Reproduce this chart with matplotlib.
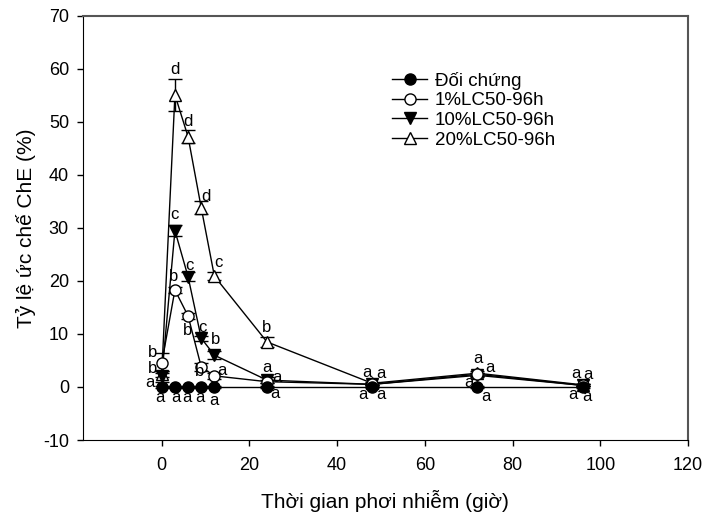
import matplotlib as mpl
import matplotlib.pyplot as plt
from matplotlib.lines import Line2D

mpl.rc('font', family=['Liberation Sans', 'DejaVu Sans'], size=13)
mpl.rc('axes', unicode_minus=False)
mpl.rc('figure', figsize=(7.02, 5.12), dpi=100)
mpl.rc('figure.subplot', left=0.118, right=0.980, bottom=0.1406, top=0.969)

time = [0, 3, 6, 9, 12, 24, 48, 72, 96]
control = [0, 0, 0, 0, 0, 0, 0, 0, 0]
lc1 = [4.5, 18.3, 13.4, 3.8, 2.1, 1.0, 0.5, 2.4, 0.3]
lc10 = [2.0, 29.5, 20.8, 9.2, 6.0, 1.3, 0.5, 2.2, 0.3]
lc20 = [2.5, 55.1, 47.2, 33.8, 20.9, 8.5, 0.7, 2.6, 0.4]

err_control = [0.1, 0.1, 0.1, 0.1, 0.1, 0.1, 0.1, 0.1, 0.1]
err1 = [1.9, 0.5, 0.5, 0.8, 0.6, 0.3, 0.2, 0.3, 0.2]
err10 = [1.0, 1.0, 0.8, 0.5, 0.8, 0.5, 0.2, 0.4, 0.2]
err20 = [0.6, 3.0, 1.2, 1.2, 0.8, 1.0, 0.3, 0.5, 0.2]

# significance letters
let_control = ['a', 'a', 'a', 'a', 'a', 'a', 'a', 'a', 'a']
let1 = ['b', 'b', 'b', 'b', 'a', 'a', 'a', 'a', 'a']
let10 = ['a', 'c', 'c', 'c', 'b', 'a', 'a', 'a', 'a']
let20 = ['b', 'd', 'd', 'd', 'c', 'b', 'a', 'a', 'a']

# label offsets (pixels) relative to each point
off_control = [(-2, -11), (1, -11), (-1, -11), (-1, -11), (0, -14), (8, -7), (9, -8), (8, -10), (4, -10)]
off1 = [(-9, 11), (-1, 13), (-1, -15), (-2, -5), (8, 5), (10, 4), (-9, -10), (-9, -8), (-10, -9)]
off10 = [(-12, -6), (0, 16), (1, 11), (1, 11), (1, 16), (0, 13), (9, 11), (12, 8), (5, 11)]
off20 = [(-9, 5), (0, 25), (0, 15), (5, 11), (4, 14), (0, 14), (-5, 11), (0, 15), (-7, 11)]

fig, ax = plt.subplots()

series = [
    ('Đối chứng', control, err_control, let_control, off_control, dict(marker='o', mfc='black'), 5),
    ('1%LC50-96h', lc1, err1, let1, off1, dict(marker='o', mfc='white'), 4),
    ('10%LC50-96h', lc10, err10, let10, off10, dict(marker='v', mfc='black'), 3),
    ('20%LC50-96h', lc20, err20, let20, off20, dict(marker='^', mfc='white'), 2),
]

handles = []
for name, vals, err, letters, offs, mk, z in series:
    ax.errorbar(time, vals, yerr=err, color='black', lw=1, mec='black', mew=1,
                ms=8, capsize=5, capthick=1, elinewidth=1, zorder=z, **mk)
    handles.append(Line2D([], [], color='black', lw=1, mec='black', mew=1, ms=8,
                          label=name, **mk))
    for t, v, s, (dx, dy) in zip(time, vals, letters, offs):
        ax.annotate(s, (t, v), xytext=(dx, dy), textcoords='offset pixels',
                    ha='center', va='center', fontsize=12, zorder=6)

ax.set_xlim(-18, 120)
ax.set_ylim(-10, 70)
ax.set_xticks([0, 20, 40, 60, 80, 100, 120])
ax.set_yticks(range(-10, 71, 10))
ax.tick_params(direction='out', length=4, width=1, labelsize=13)
ax.tick_params(axis='x', pad=8)
ax.tick_params(axis='y', pad=6)
for s in ['top', 'right']:
    ax.spines[s].set_color('#555555')
    ax.spines[s].set_linewidth(1.5)

ax.set_xlabel('Thời gian phơi nhiễm (giờ)', fontsize=15, labelpad=12)
ax.set_ylabel('Tỷ lệ ức chế ChE (%)', fontsize=15, labelpad=5)

ax.legend(handles=handles, loc='upper left', bbox_to_anchor=(0.495, 0.89), frameon=False,
          handlelength=1.9, handletextpad=0.4, labelspacing=0.13, fontsize=13.5,
          borderpad=0)

plt.savefig('out.png')
